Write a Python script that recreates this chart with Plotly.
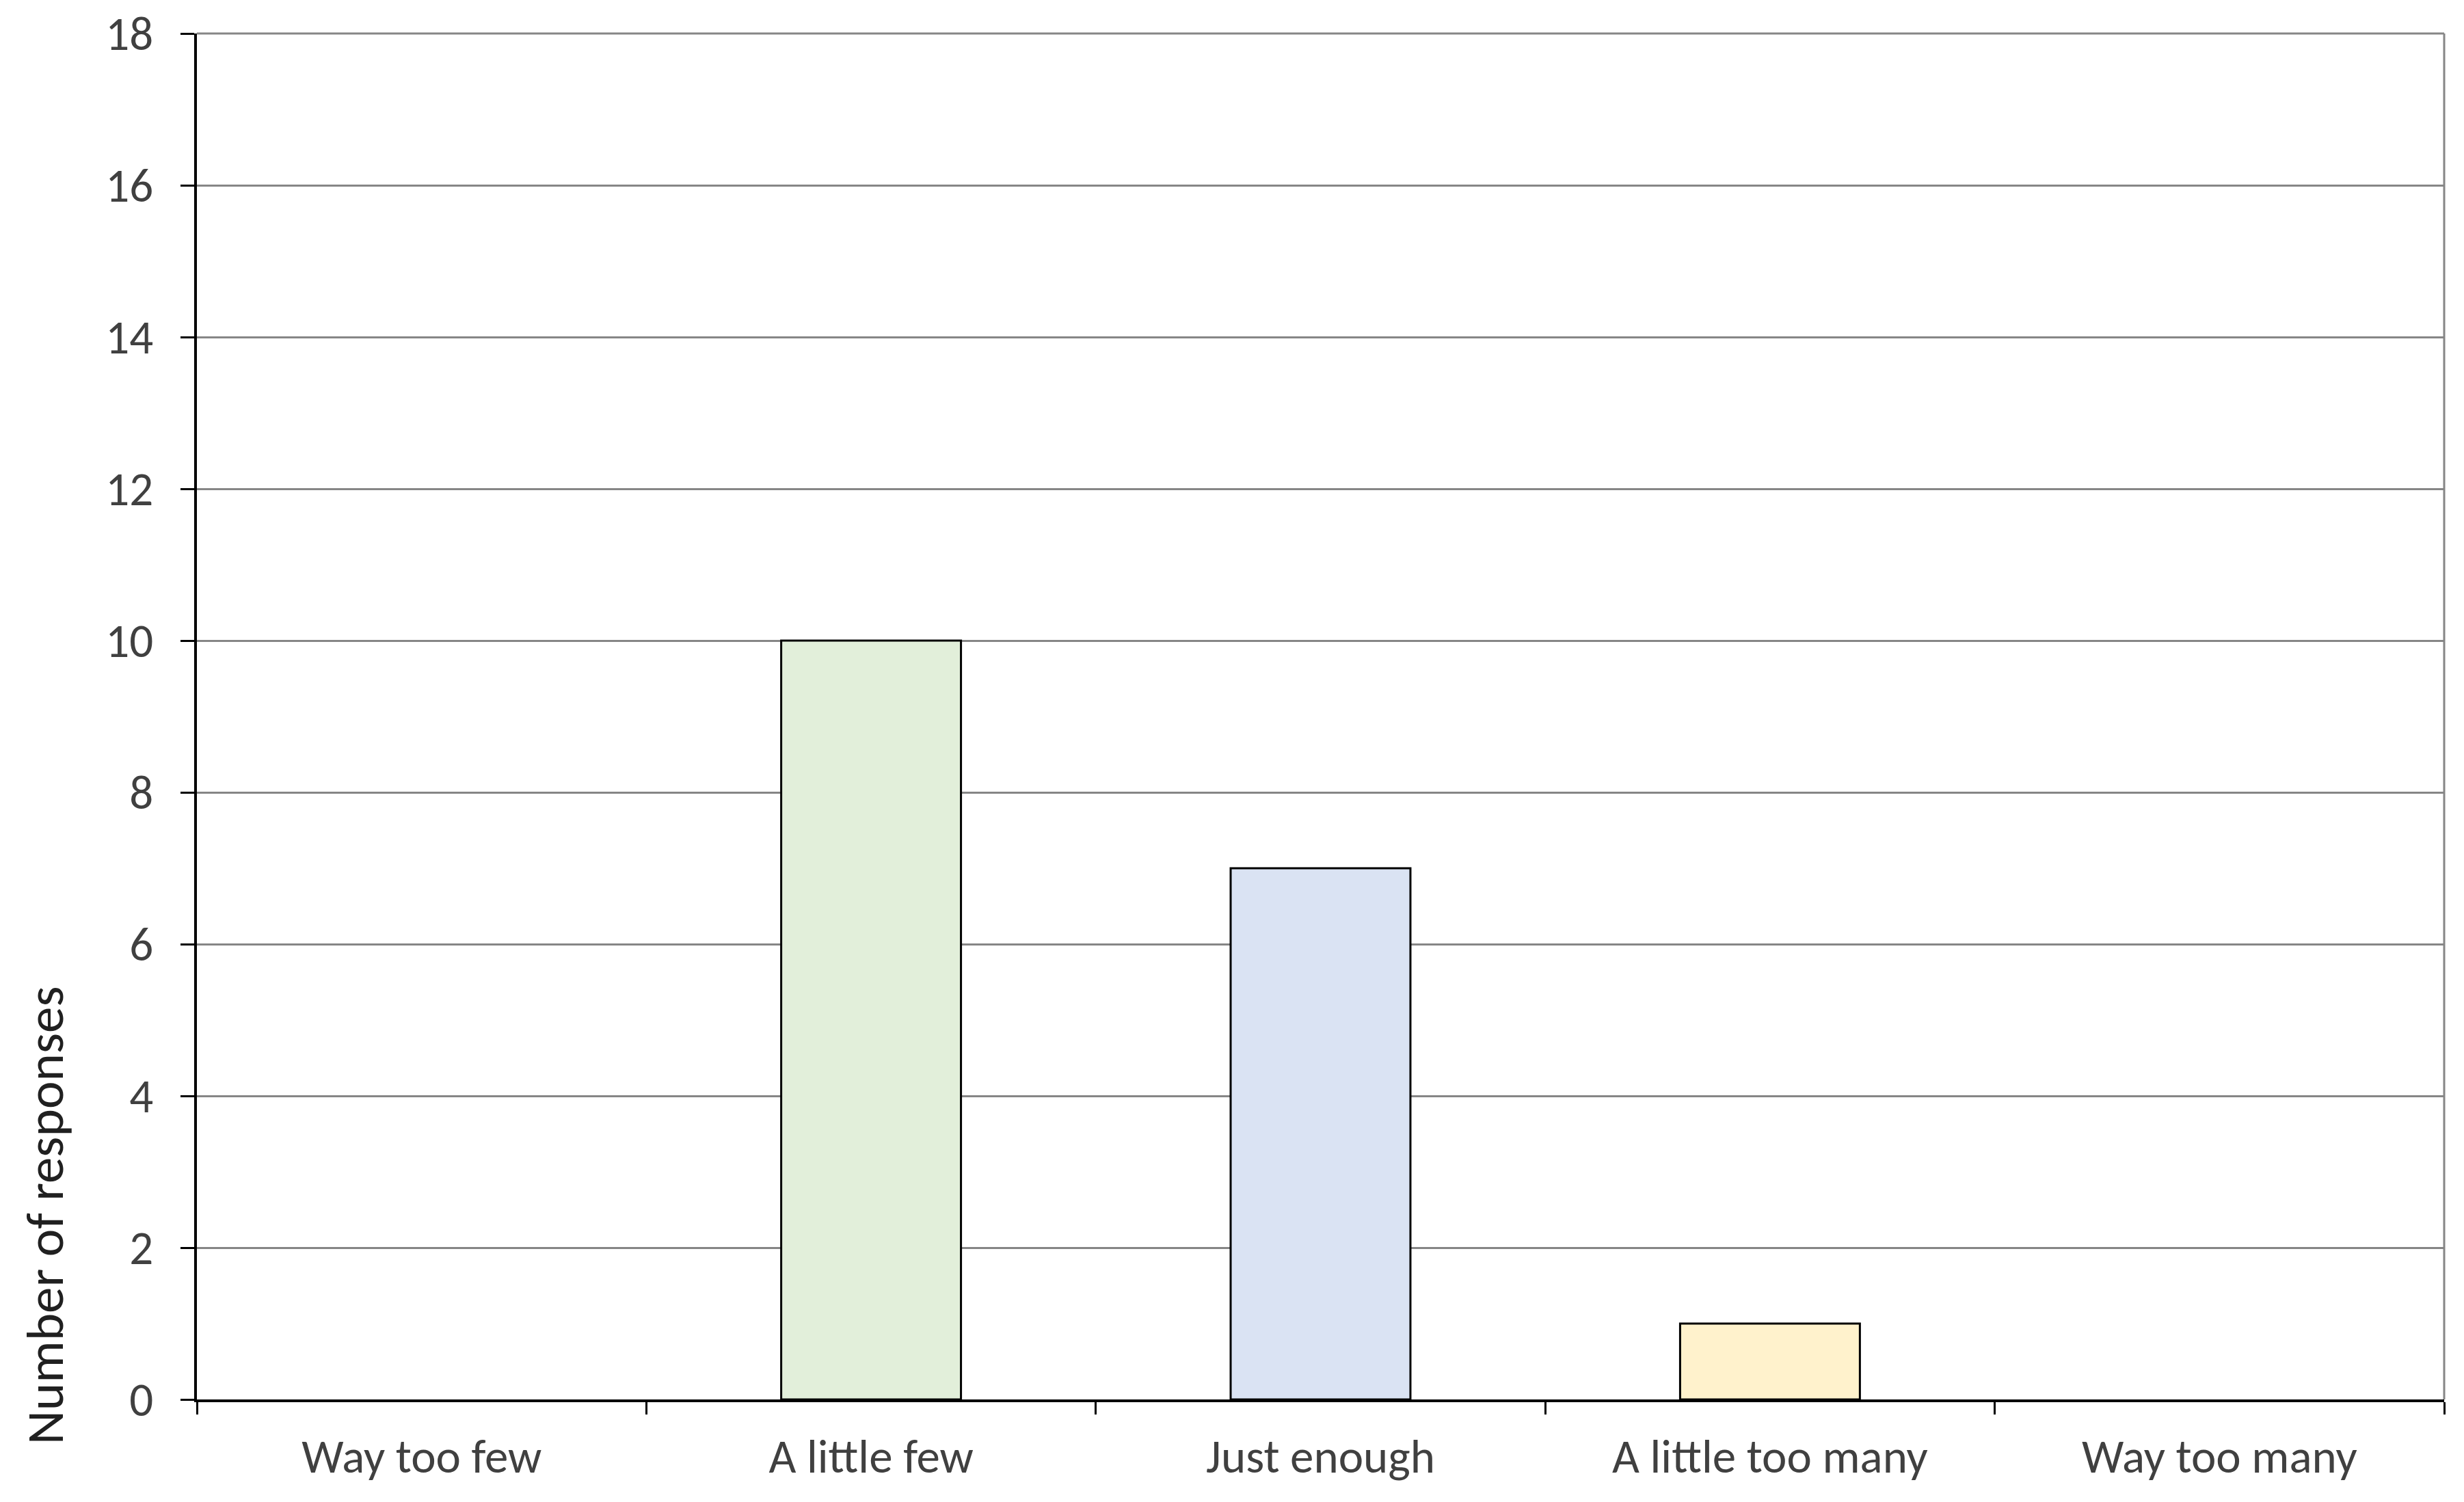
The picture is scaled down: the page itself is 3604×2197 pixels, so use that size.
import plotly.graph_objects as go

categories = ["Way too few", "A little few", "Just enough", "A little too many", "Way too many"]
responses = [0, 10, 7, 1, 0]
bar_colors = ["#FFFFFF", "#E2EFDA", "#DAE3F3", "#FFF2CC", "#FFFFFF"]
y_ticks = [0, 2, 4, 6, 8, 10, 12, 14, 16, 18]

W, H = 3604, 2197
L, R, T, B = 280, 37, 41, 158

fig = go.Figure()
fig.add_trace(go.Bar(
    x=categories,
    y=responses,
    width=0.4,
    marker=dict(color=bar_colors,
                line=dict(color="black", width=[3 if v > 0 else 0 for v in responses])),
    showlegend=False,
))

tick_font = dict(family="Calibri, Lato, sans-serif", size=69, color="#404040")

fig.update_layout(
    width=W,
    height=H,
    margin=dict(l=L, r=R, t=T, b=B),
    plot_bgcolor="white",
    paper_bgcolor="white",
    xaxis=dict(
        type="category",
        tickson="boundaries",
        ticks="outside",
        ticklen=18,
        tickwidth=3,
        tickcolor="black",
        showline=True,
        linecolor="black",
        linewidth=4,
        showgrid=False,
        tickfont=tick_font,
        ticklabelstandoff=20,
        automargin=False,
    ),
    yaxis=dict(
        range=[0, 18],
        tickvals=y_ticks,
        ticks="outside",
        ticklen=20,
        tickwidth=3,
        tickcolor="black",
        showline=True,
        linecolor="black",
        linewidth=4,
        showgrid=True,
        gridcolor="#868686",
        gridwidth=3,
        zeroline=False,
        tickfont=tick_font,
        ticklabelstandoff=26,
        ticklabeloverflow="allow",
        automargin=False,
    ),
)

# gray top and right border like the original frame
fig.add_shape(type="line", xref="paper", yref="paper", x0=1, x1=1, y0=0, y1=1,
              line=dict(color="#868686", width=3))
fig.add_shape(type="line", xref="paper", yref="paper", x0=0, x1=1, y0=1, y1=1,
              line=dict(color="#868686", width=3))

# axis title sits low on the left side in the original
fig.add_annotation(
    text="Number of responses",
    xref="paper", yref="paper",
    x=(58 - L) / (W - L - R), y=(2039 - 1770) / (H - T - B),
    xanchor="center", yanchor="middle",
    textangle=-90, showarrow=False,
    font=dict(family="Calibri, Lato, sans-serif", size=77, color="#202020"),
)

fig.write_html("out.html")
